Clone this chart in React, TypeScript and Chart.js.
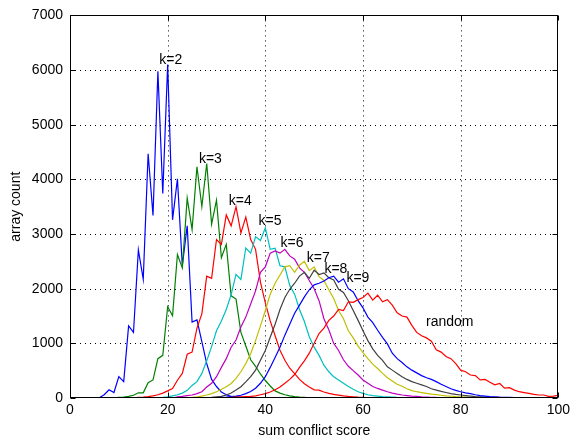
import React, { useEffect, useRef } from "react";
import { Chart, registerables } from "chart.js";

Chart.register(...registerables);

// x axis: sum conflict score 0..100
const scores = Array.from({ length: 101 }, (_, i) => i);

const k2 = [
  0, 0, 0, 0, 0, 0, 5, 60, 150, 100,
  390, 300, 1320, 1200, 2710, 2170, 4470, 3340, 5980, 3740,
  6100, 3260, 4010, 2420, 3150, 1390, 1430, 1030, 630, 340,
  210, 110, 60, 30, 20, 10, 5, 3, 2, 1,
  0, 0, 0, 0, 0, 0, 0, 0, 0, 0,
  0, 0, 0, 0, 0, 0, 0, 0, 0, 0,
  0, 0, 0, 0, 0, 0, 0, 0, 0, 0,
  0, 0, 0, 0, 0, 0, 0, 0, 0, 0,
  0, 0, 0, 0, 0, 0, 0, 0, 0, 0,
  0, 0, 0, 0, 0, 0, 0, 0, 0, 0,
  0,
];

const k3 = [
  0, 0, 0, 0, 0, 0, 0, 0, 0, 5,
  10, 15, 30, 50, 95, 95, 280, 330, 720, 780,
  1670, 1505, 2625, 2380, 3655, 3080, 4230, 3500, 4290, 3180,
  3620, 2565, 2810, 1870, 1810, 1200, 950, 700, 580, 440,
  320, 220, 130, 90, 60, 40, 25, 15, 10, 5,
  3, 2, 1, 0, 0, 0, 0, 0, 0, 0,
  0, 0, 0, 0, 0, 0, 0, 0, 0, 0,
  0, 0, 0, 0, 0, 0, 0, 0, 0, 0,
  0, 0, 0, 0, 0, 0, 0, 0, 0, 0,
  0, 0, 0, 0, 0, 0, 0, 0, 0, 0,
  0,
];

const k4 = [
  0, 0, 0, 0, 0, 0, 0, 0, 0, 0,
  0, 0, 0, 5, 10, 15, 25, 40, 60, 90,
  130, 175, 325, 450, 800, 840, 1280, 1540, 2230, 2190,
  2900, 2810, 3350, 3150, 3500, 3020, 3310, 2900, 2720, 2120,
  1740, 1410, 1140, 875, 690, 545, 445, 340, 260, 200,
  150, 145, 110, 85, 65, 54, 40, 30, 22, 15,
  10, 5, 3, 2, 1, 0, 0, 0, 0, 0,
  0, 0, 0, 0, 0, 0, 0, 0, 0, 0,
  0, 0, 0, 0, 0, 0, 0, 0, 0, 0,
  0, 0, 0, 0, 0, 0, 0, 0, 0, 0,
  0,
];

const k5 = [
  0, 0, 0, 0, 0, 0, 0, 0, 0, 0,
  0, 0, 0, 0, 0, 0, 0, 0, 5, 10,
  20, 40, 60, 90, 140, 230, 300, 450, 680, 940,
  1230, 1410, 1620, 1890, 2260, 2170, 2745, 2650, 2950, 2880,
  3115, 2720, 2740, 2420, 2400, 2060, 1900, 1620, 1400, 1120,
  930, 780, 600, 480, 390, 330, 270, 210, 160, 115,
  85, 60, 45, 35, 25, 20, 15, 10, 8, 5,
  3, 2, 1, 0, 0, 0, 0, 0, 0, 0,
  0, 0, 0, 0, 0, 0, 0, 0, 0, 0,
  0, 0, 0, 0, 0, 0, 0, 0, 0, 0,
  0,
];

const k6 = [
  0, 0, 0, 0, 0, 0, 0, 0, 0, 0,
  0, 0, 0, 0, 0, 0, 0, 0, 0, 0,
  0, 0, 20, 30, 45, 55, 80, 115, 200, 270,
  390, 560, 720, 930, 1060, 1300, 1480, 1720, 1960, 2300,
  2400, 2650, 2690, 2650, 2720, 2600, 2540, 2380, 2300, 2150,
  2000, 1780, 1450, 1250, 1000, 870, 700, 580, 500, 420,
  330, 270, 210, 175, 145, 115, 90, 70, 55, 45,
  35, 28, 22, 18, 14, 10, 8, 6, 4, 3,
  2, 0, 0, 0, 0, 0, 0, 0, 0, 0,
  0, 0, 0, 0, 0, 0, 0, 0, 0, 0,
  0,
];

const k7 = [
  0, 0, 0, 0, 0, 0, 0, 0, 0, 0,
  0, 0, 0, 0, 0, 0, 0, 0, 0, 0,
  0, 0, 0, 0, 0, 10, 20, 35, 55, 80,
  115, 160, 205, 265, 360, 480, 630, 810, 1050, 1320,
  1600, 1900, 2100, 2250, 2400, 2420, 2300, 2430, 2500, 2330,
  2400, 2220, 2150, 1980, 1820, 1600, 1450, 1230, 1100, 950,
  830, 720, 620, 540, 450, 370, 310, 250, 215, 170,
  135, 115, 100, 85, 70, 60, 50, 40, 32, 25,
  20, 16, 13, 10, 8, 6, 5, 4, 3, 2,
  1, 0, 0, 0, 0, 0, 0, 0, 0, 0,
  0,
];

const k8 = [
  0, 0, 0, 0, 0, 0, 0, 0, 0, 0,
  0, 0, 0, 0, 0, 0, 0, 0, 0, 0,
  0, 0, 0, 0, 0, 0, 0, 0, 5, 10,
  20, 30, 55, 90, 145, 205, 295, 390, 510, 690,
  870, 1110, 1350, 1620, 1840, 1990, 2100, 2230, 2300, 2190,
  2340, 2260, 2290, 2200, 2160, 1990, 1930, 1780, 1600, 1420,
  1230, 1050, 900, 780, 690, 570, 510, 450, 390, 340,
  300, 270, 240, 210, 170, 145, 120, 100, 80, 65,
  55, 45, 35, 25, 20, 15, 12, 10, 8, 6,
  5, 4, 3, 2, 2, 1, 1, 0, 0, 0,
  0,
];

const k9 = [
  0, 0, 0, 0, 0, 0, 0, 0, 0, 0,
  0, 0, 0, 0, 0, 0, 0, 0, 0, 0,
  0, 0, 0, 0, 0, 0, 0, 0, 0, 0,
  5, 10, 15, 25, 35, 50, 80, 120, 180, 270,
  390, 560, 740, 930, 1150, 1350, 1550, 1700, 1850, 1980,
  2070, 2100, 2140, 2200, 2230, 2120, 2180, 2000, 1940, 1780,
  1650, 1480, 1380, 1240, 1110, 990, 820, 720, 650, 570,
  510, 460, 410, 370, 340, 300, 250, 210, 170, 140,
  115, 95, 80, 60, 45, 35, 25, 20, 15, 12,
  10, 8, 6, 5, 4, 3, 2, 2, 1, 1,
  0,
];

const randomArrays = [
  0, 0, 0, 0, 0, 0, 0, 0, 0, 0,
  0, 0, 0, 0, 0, 0, 0, 0, 0, 0,
  0, 0, 0, 0, 0, 0, 0, 0, 0, 0,
  0, 5, 8, 10, 15, 20, 25, 30, 40, 60,
  80, 110, 150, 200, 270, 340, 430, 560, 680, 820,
  1000, 1180, 1280, 1420, 1500, 1620, 1600, 1760, 1750, 1800,
  1840, 1920, 1790, 1880, 1760, 1800, 1700, 1560, 1500, 1480,
  1330, 1200, 1140, 1100, 1040, 880, 840, 760, 720, 630,
  510, 480, 420, 410, 330, 340, 290, 240, 265, 180,
  190, 145, 115, 100, 85, 65, 55, 55, 30, 35,
  50,
];

const seriesNames = ["k=2", "k=3", "k=4", "k=5", "k=6", "k=7", "k=8", "k=9", "random"];
const seriesValues = [k2, k3, k4, k5, k6, k7, k8, k9, randomArrays];
const seriesColors = ["#0000FF", "#008000", "#FF0000", "#00BFBF", "#BF00BF", "#BFBF00", "#404040", "#0000FF", "#FF0000"];

// text annotations (left edge x, vertical middle y, in data units)
const labelX = [18.3, 26.4, 32.5, 38.6, 43.1, 48.5, 52.1, 56.6, 72.9];
const labelY = [6185, 4375, 3610, 3240, 2840, 2560, 2365, 2200, 1385];

const xTicks = [0, 20, 40, 60, 80, 100];
const yTicks = [0, 1000, 2000, 3000, 4000, 5000, 6000, 7000];

const FONT = "'Liberation Sans', Arial, Helvetica, sans-serif";

const matlabAxes = {
  id: "matlabAxes",
  beforeDatasetsDraw(chart: any) {
    const { ctx, chartArea: a, scales } = chart;
    ctx.save();
    ctx.strokeStyle = "#000";
    ctx.lineWidth = 1;
    ctx.setLineDash([1, 4]);
    for (const v of xTicks) {
      if (v === 0 || v === 100) continue;
      const px = Math.round(scales.x.getPixelForValue(v)) + 0.5;
      ctx.beginPath();
      ctx.moveTo(px, a.top);
      ctx.lineTo(px, a.bottom);
      ctx.stroke();
    }
    for (const v of yTicks) {
      if (v === 0 || v === 7000) continue;
      const py = Math.round(scales.y.getPixelForValue(v)) + 0.5;
      ctx.beginPath();
      ctx.moveTo(a.left, py);
      ctx.lineTo(a.right, py);
      ctx.stroke();
    }
    ctx.restore();
  },
  afterDatasetsDraw(chart: any) {
    const { ctx, chartArea: a, scales } = chart;
    ctx.save();
    ctx.strokeStyle = "#000";
    ctx.lineWidth = 1;
    ctx.setLineDash([]);
    const L = Math.round(a.left) + 0.5;
    const R = Math.round(a.right) - 0.5;
    const T = Math.round(a.top) + 0.5;
    const B = Math.round(a.bottom) - 0.5;
    ctx.strokeRect(L, T, R - L, B - T);
    const tl = 5;
    ctx.beginPath();
    for (const v of xTicks) {
      const px = Math.round(scales.x.getPixelForValue(v)) + 0.5;
      ctx.moveTo(px, B);
      ctx.lineTo(px, B - tl);
      ctx.moveTo(px, T);
      ctx.lineTo(px, T + tl);
    }
    for (const v of yTicks) {
      const py = Math.round(scales.y.getPixelForValue(v)) + 0.5;
      ctx.moveTo(L, py);
      ctx.lineTo(L + tl, py);
      ctx.moveTo(R, py);
      ctx.lineTo(R - tl, py);
    }
    ctx.stroke();

    ctx.fillStyle = "#000";
    ctx.font = `14px ${FONT}`;
    ctx.textAlign = "left";
    ctx.textBaseline = "middle";
    seriesNames.forEach((name, i) => {
      const px = scales.x.getPixelForValue(labelX[i]);
      const py = scales.y.getPixelForValue(labelY[i]);
      ctx.fillText(name, px, py);
    });
    ctx.restore();
  },
};

export default function App() {
  const canvasRef = useRef<HTMLCanvasElement | null>(null);

  useEffect(() => {
    const canvas = canvasRef.current;
    if (!canvas) return;
    const datasets = seriesValues.map((vals, i) => ({
      label: seriesNames[i],
      data: vals.map((v, j) => ({ x: scores[j], y: v })),
      borderColor: seriesColors[i],
      backgroundColor: seriesColors[i],
      borderWidth: 1.2,
      pointRadius: 0,
      fill: false,
      tension: 0,
      order: seriesNames.length - 1 - i,
    }));
    const chart = new Chart(canvas, {
      type: "line",
      data: { datasets },
      options: {
        animation: false,
        responsive: false,
        maintainAspectRatio: false,
        devicePixelRatio: 1,
        layout: { padding: { left: 0, right: 13, top: 12, bottom: 0 } },
        plugins: { legend: { display: false }, tooltip: { enabled: false } },
        scales: {
          x: {
            type: "linear",
            min: 0,
            max: 100,
            grid: { display: false, drawTicks: false },
            border: { display: false },
            ticks: {
              stepSize: 20,
              color: "#000",
              padding: 4,
              maxRotation: 0,
              autoSkip: false,
              font: { family: FONT, size: 14 },
              callback: (v: any) => String(v),
            },
            title: {
              display: true,
              text: "sum conflict score",
              color: "#000",
              font: { family: FONT, size: 14, lineHeight: 1 },
              padding: { top: 0, bottom: 0 },
            },
            afterFit: (s: any) => {
              s.height = 40;
            },
          },
          y: {
            type: "linear",
            min: 0,
            max: 7000,
            grid: { display: false, drawTicks: false },
            border: { display: false },
            ticks: {
              stepSize: 1000,
              color: "#000",
              padding: 7,
              font: { family: FONT, size: 14 },
              callback: (v: any) => String(v),
            },
            title: {
              display: true,
              text: "array count",
              color: "#000",
              font: { family: FONT, size: 14, lineHeight: 1.2 },
              padding: { top: 8, bottom: 0 },
            },
            afterFit: (s: any) => {
              s.width = 70;
            },
          },
        },
      } as any,
      plugins: [matlabAxes],
    });
    return () => chart.destroy();
  }, []);

  return (
    <div style={{ position: "fixed", left: 0, top: 0, width: 574, height: 438, background: "#fff" }}>
      <canvas ref={canvasRef} width={574} height={438} style={{ width: 574, height: 438, display: "block" }} />
    </div>
  );
}
